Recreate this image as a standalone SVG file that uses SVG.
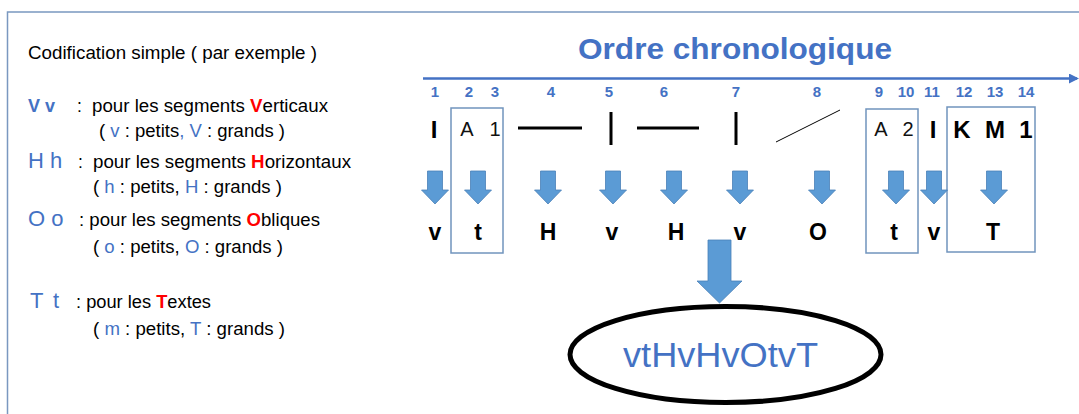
<svg xmlns="http://www.w3.org/2000/svg" xmlns:xlink="http://www.w3.org/1999/xlink" width="1079" height="414" viewBox="0 0 1079 414">
<style>
.t{font-family:"Liberation Sans",Arial,sans-serif;fill:#000}
.b{font-weight:bold}
.blue{fill:#4472C4}
.red{fill:#FF0000;font-weight:bold}
.num{font-family:"Liberation Sans",Arial,sans-serif;font-weight:bold;font-size:15px;fill:#4472C4;text-anchor:middle}
.sym{font-family:"Liberation Sans",Arial,sans-serif;font-size:24px;font-weight:bold;fill:#000;text-anchor:middle}
.sm{font-family:"Liberation Sans",Arial,sans-serif;font-size:20px;fill:#111;text-anchor:middle}
.res{font-family:"Liberation Sans",Arial,sans-serif;font-size:23px;font-weight:bold;fill:#000;text-anchor:middle}
.box{fill:none;stroke:#7094bd;stroke-width:1.5}
.arr{fill:#5B9BD5;stroke:#4a80b8;stroke-width:0.8}
.seg{stroke:#000;stroke-width:3;fill:none}
</style>
<defs>
<path id="da" d="M-7.5,171 H7.5 V190 H13.5 L0,204 L-13.5,190 H-7.5 Z"/>
<marker id="ah" markerWidth="10" markerHeight="10" refX="8" refY="5" orient="auto" markerUnits="userSpaceOnUse">
<path d="M0,0 L10,5 L0,10 Z" fill="#4472C4"/>
</marker>
</defs>
<rect width="1079" height="414" fill="#fff"/>
<g id="frame">
<path d="M7.5,414 V12 H1079" fill="none" stroke="#7a98c0" stroke-width="1.5"/>
</g>
<g id="legend">
<text class="t" x="28" y="59" font-size="17.5" textLength="289" lengthAdjust="spacingAndGlyphs">Codification simple ( par exemple )</text>
<text class="t b blue" x="28" y="112" font-size="18">V v</text>
<text class="t" x="77" y="112" font-size="17.5">:</text>
<text class="t" x="92" y="112" font-size="17.5" textLength="236" lengthAdjust="spacingAndGlyphs">pour les segments <tspan class="red">V</tspan>erticaux</text>
<text class="t" x="99" y="137" font-size="17.5" textLength="186" lengthAdjust="spacingAndGlyphs">( <tspan class="blue">v</tspan> : petits<tspan class="blue">, V</tspan> : grands )</text>
<text class="t blue" x="28" y="168" font-size="22">H h</text>
<text class="t" x="78" y="168" font-size="17.5">:</text>
<text class="t" x="93" y="168" font-size="17.5" textLength="258" lengthAdjust="spacingAndGlyphs">pour les segments <tspan class="red">H</tspan>orizontaux</text>
<text class="t" x="93" y="193" font-size="17.5" textLength="189" lengthAdjust="spacingAndGlyphs">( <tspan class="blue">h</tspan> : petits, <tspan class="blue">H</tspan> : grands )</text>
<text class="t blue" x="28" y="226" font-size="22">O o</text>
<text class="t" x="79" y="226" font-size="17.5" textLength="241" lengthAdjust="spacingAndGlyphs">: pour les segments <tspan class="red">O</tspan>bliques</text>
<text class="t" x="93" y="253" font-size="17.5" textLength="190" lengthAdjust="spacingAndGlyphs">( <tspan class="blue">o</tspan> : petits, <tspan class="blue">O</tspan> : grands )</text>
<text class="t blue" x="30" y="308" font-size="22">T</text>
<text class="t blue" x="53" y="308" font-size="22">t</text>
<text class="t" x="76" y="308" font-size="17.5" textLength="135" lengthAdjust="spacingAndGlyphs">: pour les <tspan class="red">T</tspan>extes</text>
<text class="t" x="93" y="335" font-size="17.5" textLength="192" lengthAdjust="spacingAndGlyphs">( <tspan class="blue">m</tspan> : petits, <tspan class="blue">T</tspan> : grands )</text>
</g>
<g id="title">
<text class="t b blue" x="578" y="59" font-size="30" textLength="314" lengthAdjust="spacingAndGlyphs">Ordre chronologique</text>
</g>
<g id="connectors">
<line x1="423" y1="78.5" x2="1077" y2="78.5" stroke="#4472C4" stroke-width="2.5" marker-end="url(#ah)"/>
</g>
<g id="numbers">
<text class="num" x="435" y="97">1</text>
<text class="num" x="469" y="97">2</text>
<text class="num" x="495" y="97">3</text>
<text class="num" x="551" y="97">4</text>
<text class="num" x="609" y="97">5</text>
<text class="num" x="664" y="97">6</text>
<text class="num" x="736" y="97">7</text>
<text class="num" x="817" y="97">8</text>
<text class="num" x="879" y="97">9</text>
<text class="num" x="906" y="97">10</text>
<text class="num" x="932" y="97">11</text>
<text class="num" x="964" y="97">12</text>
<text class="num" x="995" y="97">13</text>
<text class="num" x="1026" y="97">14</text>
</g>
<g id="group-box-1"><rect class="box" x="451" y="108" width="52" height="145"/></g>
<g id="group-box-2"><rect class="box" x="866" y="109" width="52" height="144"/></g>
<g id="group-box-3"><rect class="box" x="947" y="107" width="88" height="145"/></g>
<g id="elements">
<text class="sym" x="434" y="138">I</text>
<text class="sm" x="467" y="136">A</text>
<text class="sm" x="495" y="136">1</text>
<line class="seg" x1="518" y1="128" x2="582" y2="128"/>
<line class="seg" x1="611" y1="112" x2="611" y2="145"/>
<line class="seg" x1="637" y1="128" x2="699" y2="128"/>
<line class="seg" x1="736" y1="112" x2="736" y2="145"/>
<line x1="776" y1="142" x2="840" y2="110" stroke="#000" stroke-width="1"/>
<text class="sm" x="881" y="136">A</text>
<text class="sm" x="908" y="136">2</text>
<text class="sym" x="933" y="138">I</text>
<text class="sym" x="962" y="138">K</text>
<text class="sym" x="995" y="138">M</text>
<text class="sym" x="1026" y="138">1</text>
</g>
<g id="arrows">
<use xlink:href="#da" href="#da" class="arr" x="435"/>
<use xlink:href="#da" href="#da" class="arr" x="478"/>
<use xlink:href="#da" href="#da" class="arr" x="548"/>
<use xlink:href="#da" href="#da" class="arr" x="613"/>
<use xlink:href="#da" href="#da" class="arr" x="674"/>
<use xlink:href="#da" href="#da" class="arr" x="740"/>
<use xlink:href="#da" href="#da" class="arr" x="822"/>
<use xlink:href="#da" href="#da" class="arr" x="896"/>
<use xlink:href="#da" href="#da" class="arr" x="934"/>
<use xlink:href="#da" href="#da" class="arr" x="994"/>
</g>
<g id="codes">
<text class="res" x="435" y="240">v</text>
<text class="res" x="478" y="240">t</text>
<text class="res" x="548" y="240">H</text>
<text class="res" x="612" y="240">v</text>
<text class="res" x="676" y="240">H</text>
<text class="res" x="740" y="240">v</text>
<text class="res" x="818" y="240">O</text>
<text class="res" x="894" y="240">t</text>
<text class="res" x="934" y="240">v</text>
<text class="res" x="993" y="240">T</text>
</g>
<g id="big-arrow">
<path class="arr" d="M708,240 H731 V281 H742 L719.5,303 L697,281 H708 Z"/>
</g>
<g id="result">
<ellipse cx="725.5" cy="354.5" rx="155.5" ry="48" fill="none" stroke="#000" stroke-width="5"/>
<text class="t blue" x="623" y="367" font-size="35" textLength="195" lengthAdjust="spacingAndGlyphs">vtHvHvOtvT</text>
</g>
</svg>
